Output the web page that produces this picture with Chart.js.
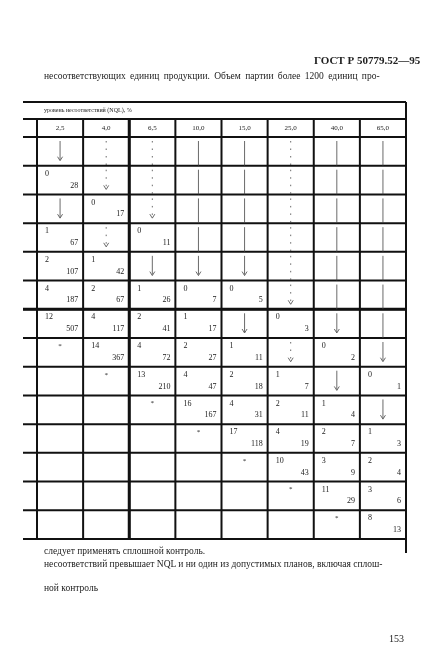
<!DOCTYPE html>
<html>
<head>
<meta charset="utf-8">
<script src="https://cdn.jsdelivr.net/npm/chart.js@4"></script>
<style>
  body { margin: 0; background: #fff; }
  #wrap { position: relative; width: 436px; height: 661px; }
  canvas { position: absolute; left: 0; top: 0; }
  .t { position: absolute; font-family: "Liberation Serif", serif; color: #222; white-space: nowrap; }
</style>
</head>
<body>
<div id="wrap">
  <canvas id="tbl" width="436" height="661"></canvas>
  <div class="t" style="left:314px;top:54px;font-size:11px;font-weight:bold">ГОСТ Р 50779.52—95</div>
  <div class="t" style="left:44px;top:71px;font-size:9.5px;word-spacing:2px">несоответствующих единиц продукции. Объем партии  более 1200 единиц про-</div>
  <div class="t" style="left:44px;top:546px;font-size:9.5px">следует применять сплошной контроль.</div>
  <div class="t" style="left:44px;top:559px;font-size:9.5px">несоответствий превышает NQL и ни один из допустимых планов, включая сплош-</div>
  <div class="t" style="left:44px;top:583px;font-size:9.5px">ной контроль</div>
  <div class="t" style="left:389px;top:633px;font-size:10px">153</div>
</div>
<script>
const nqlLabels = ['2,5', '4,0', '6,5', '10,0', '15,0', '25,0', '40,0', '65,0'];
const headerTitle = 'уровень несоответствий (NQL), %';

// one string per row, cells separated by ';'
// "a b" = numbers, v = arrow, | = line, : = dotted line, v: = dotted arrow, * = star, '' = empty
const row0  = 'v;:;:;|;|;:;|;|';
const row1  = '0 28;v:;:;|;|;:;|;|';
const row2  = 'v;0 17;v:;|;|;:;|;|';
const row3  = '1 67;v:;0 11;|;|;:;|;|';
const row4  = '2 107;1 42;v;v;v;:;|;|';
const row5  = '4 187;2 67;1 26;0 7;0 5;v:;|;|';
const row6  = '12 507;4 117;2 41;1 17;v;0 3;v;|';
const row7  = '*;14 367;4 72;2 27;1 11;v:;0 2;v';
const row8  = ';*;13 210;4 47;2 18;1 7;v;0 1';
const row9  = ';;*;16 167;4 31;2 11;1 4;v';
const row10 = ';;;*;17 118;4 19;2 7;1 3';
const row11 = ';;;;*;10 43;3 9;2 4';
const row12 = ';;;;;*;11 29;3 6';
const row13 = ';;;;;;*;8 13';
const rows = [row0, row1, row2, row3, row4, row5, row6, row7, row8, row9, row10, row11, row12, row13];

const cells = [];
rows.forEach((r, ri) => r.split(';').forEach((c, ci) => cells.push({ x: ci + 0.5, y: ri + 0.5, code: c })));

const serif = '"Liberation Serif", serif';

const tablePlugin = {
  id: 'tablePlugin',
  afterDraw(chart) {
    const { ctx, scales: { x, y } } = chart;
    const nc = nqlLabels.length, nr = rows.length;
    const right = x.getPixelForValue(nc);
    const top = y.getPixelForValue(0), bottom = y.getPixelForValue(nr);
    const hTop = top - 35, hMid = top - 18;
    const edge = 23;
    ctx.save();
    ctx.strokeStyle = '#111';
    ctx.lineWidth = 2;
    ctx.beginPath();
    ctx.moveTo(edge, hTop); ctx.lineTo(right, hTop);
    ctx.moveTo(edge, hMid); ctx.lineTo(right, hMid);
    for (let i = 0; i <= nr; i++) {
      const py = y.getPixelForValue(i);
      ctx.moveTo(edge, py); ctx.lineTo(right, py);
    }
    for (let j = 0; j <= nc; j++) {
      const px = x.getPixelForValue(j);
      ctx.moveTo(px, hMid); ctx.lineTo(px, bottom);
    }
    ctx.moveTo(right, hTop); ctx.lineTo(right, bottom + 14);
    ctx.stroke();
    ctx.lineWidth = 3;
    ctx.beginPath();
    ctx.moveTo(edge, y.getPixelForValue(6)); ctx.lineTo(right, y.getPixelForValue(6));
    ctx.moveTo(x.getPixelForValue(2), hMid); ctx.lineTo(x.getPixelForValue(2), bottom);
    ctx.stroke();

    ctx.fillStyle = '#222';
    ctx.font = '6px ' + serif;
    ctx.textBaseline = 'middle';
    ctx.fillText(headerTitle, 44, (hTop + hMid) / 2);
    ctx.font = '7px ' + serif;
    ctx.textAlign = 'center';
    nqlLabels.forEach((l, j) => ctx.fillText(l, x.getPixelForValue(j + 0.5), (hMid + top) / 2));

    cells.forEach(c => {
      const cx = x.getPixelForValue(c.x);
      const x0 = x.getPixelForValue(c.x - 0.5), x1 = x.getPixelForValue(c.x + 0.5);
      const y0 = y.getPixelForValue(c.y - 0.5), y1 = y.getPixelForValue(c.y + 0.5);
      const code = c.code;
      ctx.strokeStyle = '#444';
      ctx.lineWidth = 0.8;
      if (code === '*') {
        ctx.font = '7px ' + serif;
        ctx.textAlign = 'center';
        ctx.fillText('*', cx, y0 + 8);
      } else if (/^\d/.test(code)) {
        const [a, b] = code.split(' ');
        ctx.font = '8px ' + serif;
        ctx.textAlign = 'left';
        ctx.fillText(a, x0 + 8, y0 + 8);
        ctx.textAlign = 'right';
        ctx.fillText(b, x1 - 5, y1 - 9);
      } else if (code) {
        const dotted = code.includes(':');
        const arrow = code.startsWith('v');
        ctx.setLineDash(dotted ? [1.5, 6] : []);
        ctx.beginPath();
        ctx.moveTo(cx, y0 + 4);
        ctx.lineTo(cx, arrow ? y1 - 6 : y1);
        ctx.stroke();
        ctx.setLineDash([]);
        if (arrow) {
          ctx.beginPath();
          ctx.moveTo(cx - 2.5, y1 - 9); ctx.lineTo(cx, y1 - 5); ctx.lineTo(cx + 2.5, y1 - 9);
          ctx.stroke();
        }
      }
    });
    ctx.restore();
  }
};

new Chart(document.getElementById('tbl').getContext('2d'), {
  type: 'scatter',
  data: { datasets: [{ data: cells, pointRadius: 0 }] },
  options: {
    responsive: false,
    animation: false,
    layout: { padding: { left: 37, right: 30, top: 137, bottom: 122 } },
    scales: {
      x: { type: 'linear', min: 0, max: nqlLabels.length, display: false },
      y: { type: 'linear', min: 0, max: rows.length, reverse: true, display: false }
    },
    plugins: { legend: { display: false }, tooltip: { enabled: false } }
  },
  plugins: [tablePlugin]
});
</script>
</body>
</html>
